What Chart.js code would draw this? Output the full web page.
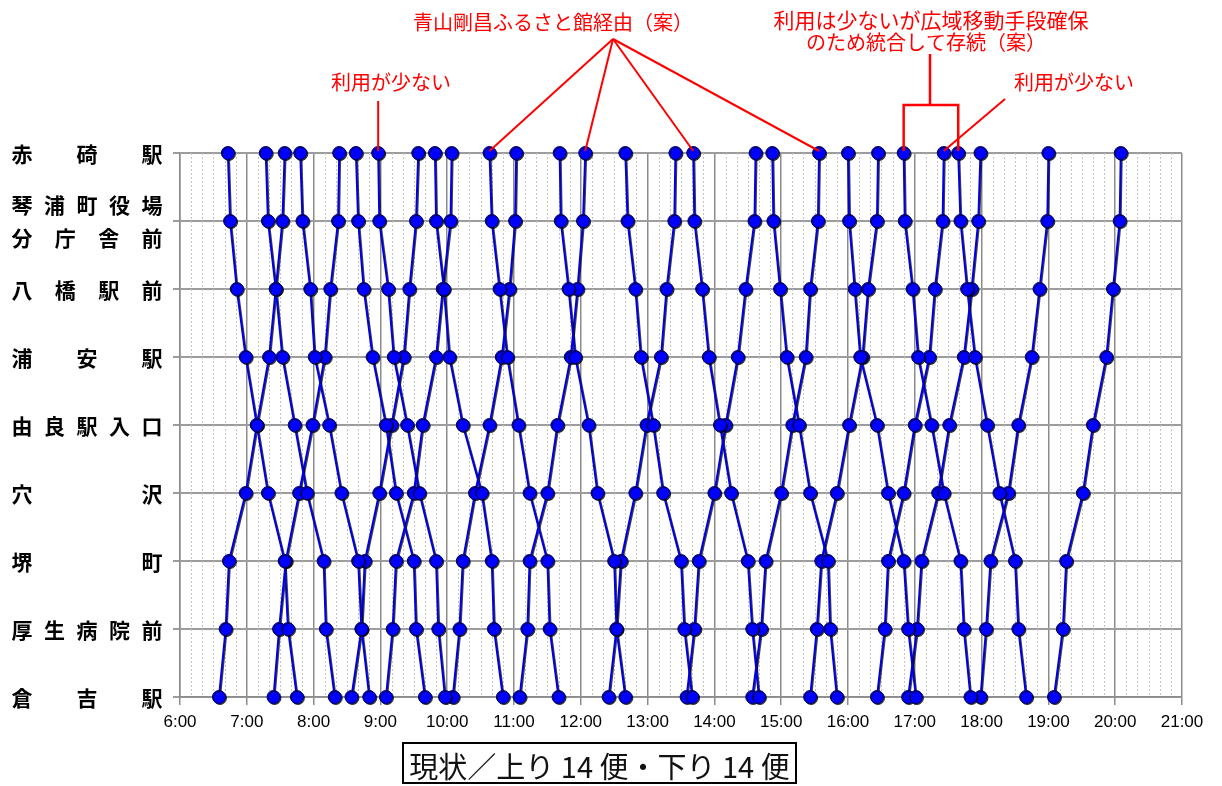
<!DOCTYPE html>
<html>
<head>
<meta charset="utf-8">
<script src="https://cdn.jsdelivr.net/npm/chart.js@4.4.1/dist/chart.umd.min.js"></script>
<style>
  body { margin: 0; background: #fff; }
  #wrap { position: relative; width: 1222px; height: 786px; }
  #caption {
    position: absolute; left: 402px; top: 742px; width: 391px; height: 38px;
    border: 2px solid #000; text-align: center; line-height: 38px;
    font: 29px "Noto Sans CJK JP"; color: #111; white-space: nowrap; overflow: hidden;
  }
</style>
</head>
<body>
<div id="wrap">
  <canvas id="dia" width="1222" height="786"></canvas>
  <div id="caption">現状／上り 14 便・下り 14 便</div>
</div>
<script>
// stations top to bottom (琴浦町役場分庁舎前 is split over two lines)
const stations = [['赤碕駅'], ['琴浦町役場', '分庁舎前'], ['八橋駅前'], ['浦安駅'], ['由良駅入口'], ['穴沢'], ['堺町'], ['厚生病院前'], ['倉吉駅']]

// 下り: 赤碕 -> 倉吉, times per station in the order above
const downTimes = [
  ['6:43', '6:45', '6:51', '6:59', '7:09', '7:19', '7:34', '7:37', '7:45'],
  ['7:17', '7:19', '7:26', '7:32', '7:43', '7:54', '8:09', '8:11', '8:19'],
  ['7:48', '7:50', '7:57', '8:01', '8:14', '8:25', '8:40', '8:43', '8:50'],
  ['8:38', '8:40', '8:45', '8:53', '9:05', '9:14', '9:30', '9:32', '9:40'],
  ['8:58', '8:59', '9:07', '9:12', '9:24', '9:35', '9:50', '9:52', '9:58'],
  ['9:49', '9:50', '9:57', '10:02', '10:14', '10:31', '10:40', '10:42', '10:50'],
  ['10:38', '10:40', '10:47', '10:54', '11:04', '11:14', '11:30', '11:32', '11:40'],
  ['11:41', '11:42', '11:49', '11:55', '12:07', '12:15', '12:30', '12:32', '12:40'],
  ['12:40', '12:42', '12:49', '12:54', '13:05', '13:14', '13:30', '13:33', '13:40'],
  ['13:41', '13:42', '13:49', '13:55', '14:05', '14:15', '14:30', '14:34', '14:40'],
  ['14:52', '14:53', '14:59', '15:05', '15:16', '15:26', '15:42', '15:44', '15:50'],
  ['16:00', '16:01', '16:06', '16:11', '16:26', '16:36', '16:50', '16:54', '17:01'],
  ['16:50', '16:51', '16:58', '17:03', '17:15', '17:26', '17:41', '17:44', '17:50'],
  ['17:39', '17:41', '17:47', '17:54', '18:05', '18:16', '18:30', '18:33', '18:40']
]

// 上り: 倉吉 -> 赤碕, same station order (赤碕 first)
const upTimes = [
  ['7:34', '7:32', '7:26', '7:20', '7:09', '6:59', '6:44', '6:41', '6:35'],
  ['8:23', '8:22', '8:15', '8:10', '7:59', '7:47', '7:35', '7:29', '7:24'],
  ['9:34', '9:32', '9:26', '9:21', '9:10', '8:59', '8:46', '8:43', '8:34'],
  ['10:04', '10:03', '9:56', '9:50', '9:38', '9:30', '9:14', '9:11', '9:05'],
  ['11:02', '11:01', '10:56', '10:49', '10:38', '10:25', '10:14', '10:11', '10:05'],
  ['12:04', '12:02', '11:57', '11:51', '11:39', '11:30', '11:14', '11:12', '11:05'],
  ['13:25', '13:24', '13:17', '13:12', '12:59', '12:49', '12:36', '12:32', '12:25'],
  ['14:37', '14:36', '14:28', '14:21', '14:10', '14:00', '13:46', '13:42', '13:35'],
  ['15:34', '15:33', '15:26', '15:22', '15:10', '15:00', '14:46', '14:42', '14:34'],
  ['16:27', '16:26', '16:18', '16:13', '16:01', '15:50', '15:36', '15:32', '15:26'],
  ['17:26', '17:25', '17:18', '17:13', '17:00', '16:50', '16:36', '16:33', '16:26'],
  ['17:59', '17:57', '17:51', '17:44', '17:31', '17:21', '17:06', '17:02', '16:54'],
  ['19:00', '18:59', '18:52', '18:45', '18:33', '18:24', '18:08', '18:04', '17:59'],
  ['20:05', '20:04', '19:58', '19:52', '19:40', '19:31', '19:16', '19:13', '19:05']
]

const hourTicks = [6, 7, 8, 9, 10, 11, 12, 13, 14, 15, 16, 17, 18, 19, 20, 21]

function toMin(s) {
  const [h, m] = s.split(':')
  return h * 60 + Number(m)
}

const trips = downTimes.concat(upTimes)
const datasets = trips.map(times => ({
  data: times.map((t, i) => ({ x: toMin(t), y: i })),
  showLine: true,
  borderColor: '#0000e6',
  borderWidth: 2,
  pointRadius: 6.5,
  pointHoverRadius: 6.5,
  pointBackgroundColor: '#0000ff',
  pointBorderColor: '#000070',
  pointBorderWidth: 1,
  clip: false
}))

// thin dotted lines every 10 minutes between the hour lines
const minorGrid = {
  id: 'minorGrid',
  beforeDatasetsDraw(chart) {
    const { ctx, chartArea: a, scales: { x } } = chart
    ctx.save()
    ctx.strokeStyle = '#c4c4c4'
    ctx.lineWidth = 1
    ctx.setLineDash([2, 2])
    for (let m = hourTicks[0] * 60; m <= hourTicks[hourTicks.length - 1] * 60; m += 10) {
      if (m % 60 === 0) continue
      const px = Math.round(x.getPixelForValue(m)) + 0.5
      ctx.beginPath()
      ctx.moveTo(px, a.top)
      ctx.lineTo(px, a.bottom)
      ctx.stroke()
    }
    ctx.restore()
  }
}

// dark edge under each trip line
const edge = {
  id: 'edge',
  beforeDatasetDraw(chart) {
    const ctx = chart.ctx
    ctx.save()
    ctx.shadowColor = 'rgba(0,0,0,0.75)'
    ctx.shadowOffsetX = 1
    ctx.shadowOffsetY = 1
    ctx.shadowBlur = 0
  },
  afterDatasetDraw(chart) {
    chart.ctx.restore()
  }
}

// station names spread evenly across the label column
const stationLabels = {
  id: 'stationLabels',
  afterDraw(chart) {
    const { ctx, scales: { y } } = chart
    ctx.save()
    ctx.fillStyle = '#000'
    ctx.font = 'bold 21px "Noto Sans CJK JP"'
    ctx.textAlign = 'center'
    ctx.textBaseline = 'middle'
    stations.forEach((lines, i) => {
      const cy = y.getPixelForValue(i)
      lines.forEach((txt, k) => {
        const ly = lines.length === 1 ? cy + 1 : cy + (k === 0 ? -16 : 17)
        const chars = [...txt]
        const x0 = 22, x1 = 152
        chars.forEach((c, j) => {
          ctx.fillText(c, x0 + (x1 - x0) * j / (chars.length - 1), ly)
        })
      })
    })
    ctx.restore()
  }
}

// red call-outs pointing at particular departures from 赤碕
const notes = {
  id: 'notes',
  afterDraw(chart) {
    const { ctx, scales: { x, y } } = chart
    const top = y.getPixelForValue(0) - 2
    const px = times => x.getPixelForValue(toMin(times[0]))
    const seg = (x1, y1, x2, y2) => { ctx.beginPath(); ctx.moveTo(x1, y1); ctx.lineTo(x2, y2); ctx.stroke() }
    ctx.save()
    ctx.strokeStyle = '#ff0000'
    ctx.fillStyle = '#ff0000'
    ctx.lineWidth = 2
    ctx.font = '20px "Noto Sans CJK JP"'
    ctx.textAlign = 'center'
    ctx.textBaseline = 'middle'

    // 朝の便
    ctx.fillText('利用が少ない', 391, 82)
    seg(px(downTimes[4]), 101, px(downTimes[4]), top)

    // 青山剛昌ふるさと館経由
    ctx.fillText('青山剛昌ふるさと館経由（案）', 553, 22)
    const apex = [613, 39]
    ;[downTimes[6], upTimes[5], downTimes[9], upTimes[8]].forEach(t => seg(apex[0], apex[1], px(t), top))

    // 統合して存続
    ctx.font = '21px "Noto Sans CJK JP"'
    ctx.fillText('利用は少ないが広域移動手段確保', 931, 20)
    ctx.font = '20px "Noto Sans CJK JP"'
    ctx.fillText('のため統合して存続（案）', 926, 42)
    const xa = px(downTimes[12]), xb = px(downTimes[13]), mid = 930
    ctx.lineWidth = 2.5
    seg(mid, 54, mid, 105)
    ctx.beginPath()
    ctx.moveTo(xa, top); ctx.lineTo(xa, 105); ctx.lineTo(xb, 105); ctx.lineTo(xb, top)
    ctx.stroke()

    // 夕方の便
    ctx.lineWidth = 2
    ctx.fillText('利用が少ない', 1074, 82)
    seg(1005, 99, px(upTimes[10]), top)
    ctx.restore()
  }
}

new Chart(document.getElementById('dia'), {
  type: 'scatter',
  data: { datasets },
  options: {
    responsive: false,
    animation: false,
    events: [],
    devicePixelRatio: 1,
    layout: { padding: { top: 153, right: 40, bottom: 49, left: 0 } },
    plugins: { legend: { display: false }, tooltip: { enabled: false } },
    scales: {
      x: {
        type: 'linear',
        min: hourTicks[0] * 60,
        max: hourTicks[hourTicks.length - 1] * 60,
        afterBuildTicks: s => { s.ticks = hourTicks.map(h => ({ value: h * 60 })) },
        afterFit: s => { s.height = 40 },
        ticks: {
          color: '#000',
          padding: 7,
          font: { family: 'Liberation Sans', size: 17 },
          callback: v => (v / 60) + ':00'
        },
        grid: { color: '#8c8c8c', lineWidth: 1.5, tickLength: 8, tickColor: '#8c8c8c' },
        border: { color: '#8c8c8c', width: 1.5 }
      },
      y: {
        type: 'linear',
        min: 0,
        max: stations.length - 1,
        reverse: true,
        afterFit: s => { s.width = 180 },
        ticks: { stepSize: 1, display: false },
        grid: { color: '#9c9c9c', lineWidth: 2, tickLength: 7, tickColor: '#9c9c9c' },
        border: { color: '#8c8c8c', width: 1.5 }
      }
    }
  },
  plugins: [minorGrid, edge, stationLabels, notes]
})
</script>
</body>
</html>
